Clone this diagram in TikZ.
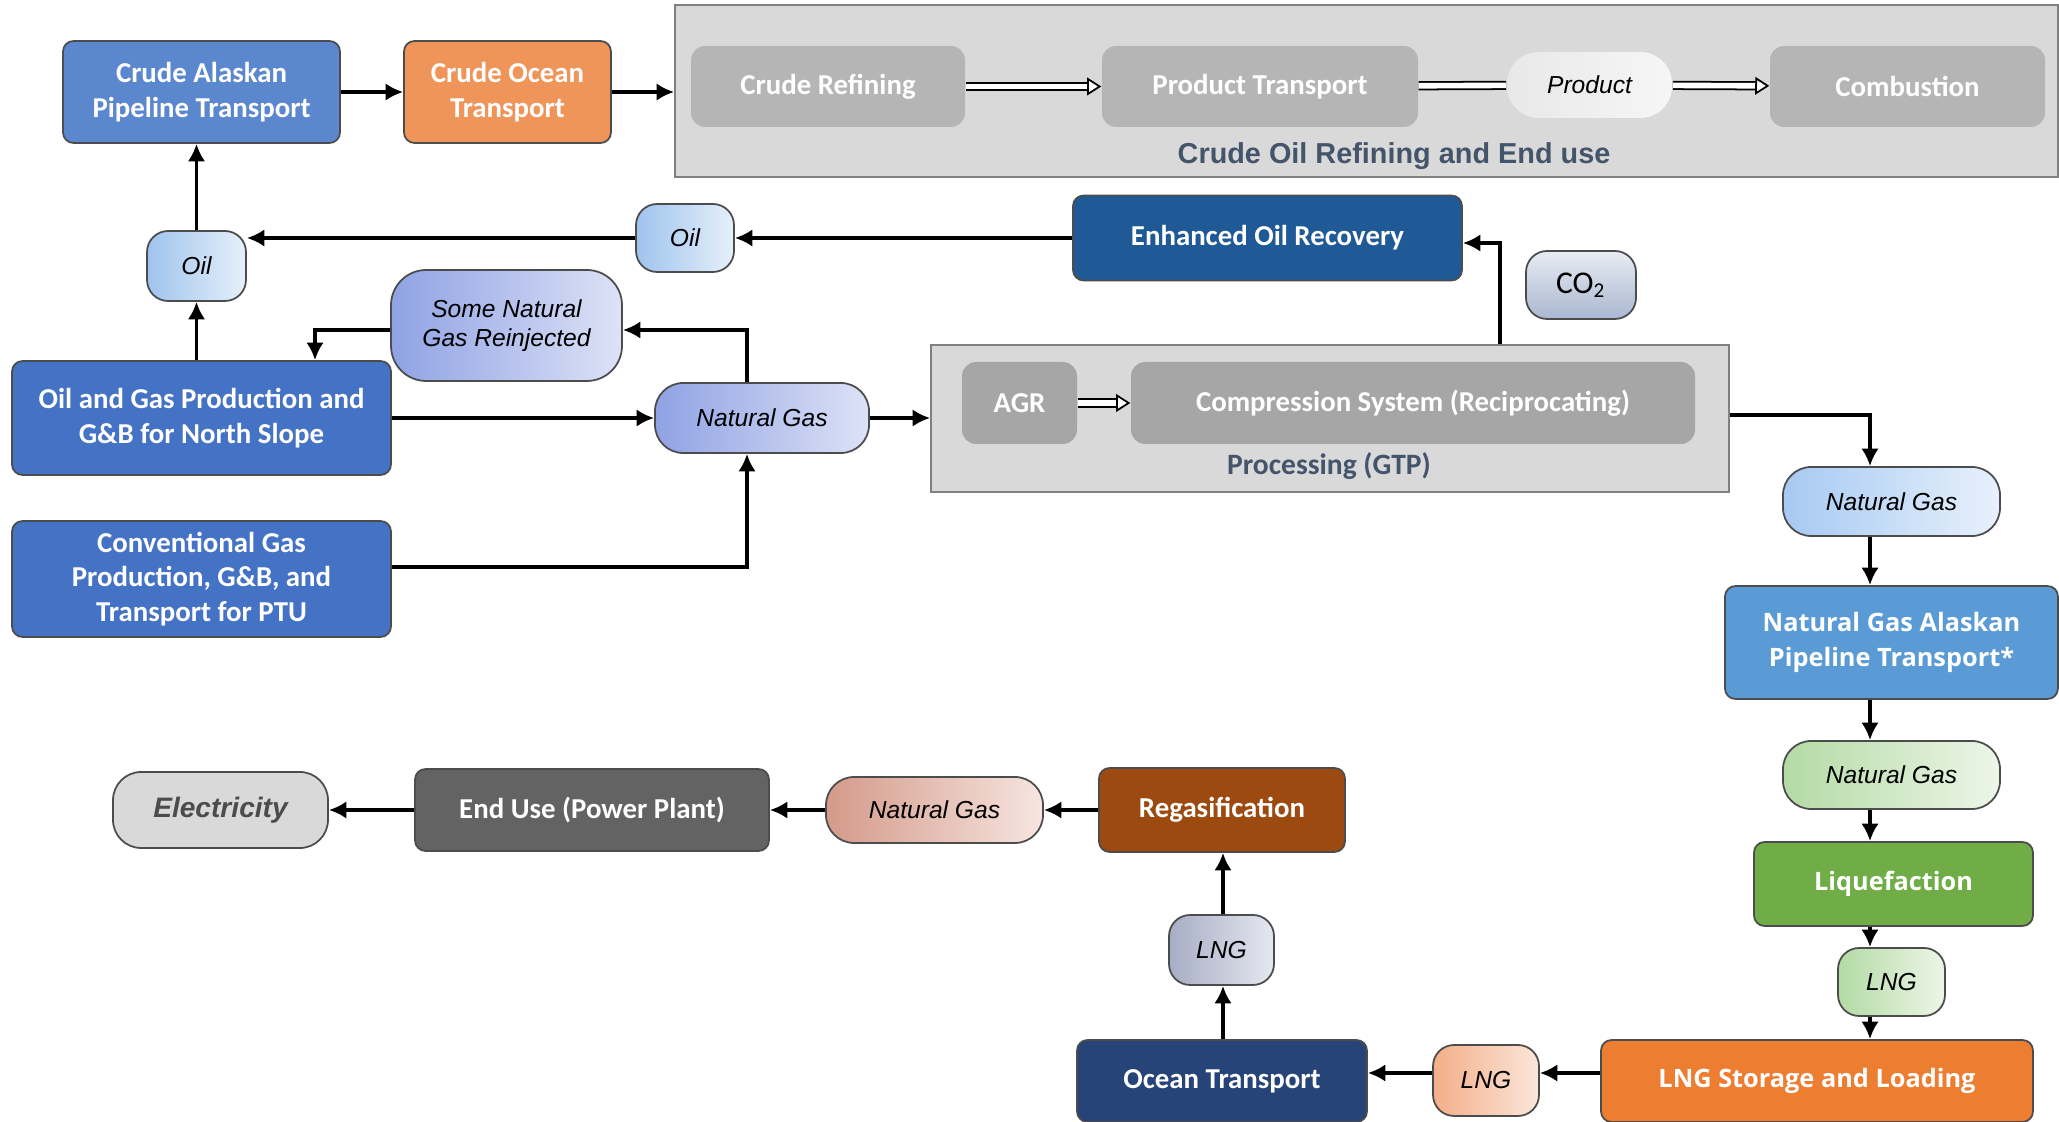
\documentclass[tikz,border=0pt]{standalone}
\usepackage{fontspec}
\usetikzlibrary{arrows,arrows.meta}
\newfontfamily\carlito{Carlito}
\newfontfamily\arialf{Liberation Sans}
\newfontfamily\opens{Open Sans}

\definecolor{capblue}{HTML}{5B87CF}
\definecolor{cotorange}{HTML}{F0955A}
\definecolor{prodblue}{HTML}{4472C4}
\definecolor{eorblue}{HTML}{1F5A96}
\definecolor{ngpblue}{HTML}{5B9BD5}
\definecolor{liqgreen}{HTML}{70AD47}
\definecolor{lslorange}{HTML}{ED7D31}
\definecolor{octnavy}{HTML}{264478}
\definecolor{rgsbrown}{HTML}{9C4A10}
\definecolor{eupgray}{HTML}{636363}
\definecolor{grpgray}{HTML}{D9D9D9}
\definecolor{refbox}{HTML}{B5B5B5}
\definecolor{procbox}{HTML}{A6A6A6}
\definecolor{slate}{HTML}{44546A}
\definecolor{oilA}{HTML}{9FC3EE}
\definecolor{oilB}{HTML}{E6F0FB}
\definecolor{ngA}{HTML}{8FA2E4}
\definecolor{ngB}{HTML}{DDE2F6}
\definecolor{ngrA}{HTML}{A6C9F2}
\definecolor{ngrB}{HTML}{E8F1FC}
\definecolor{co2A}{HTML}{A9B7D0}
\definecolor{co2B}{HTML}{E8ECF3}
\definecolor{grnA}{HTML}{B3DAA4}
\definecolor{grnB}{HTML}{EDF6E8}
\definecolor{orA}{HTML}{F3AE88}
\definecolor{orB}{HTML}{FCE6DA}
\definecolor{lbA}{HTML}{A7ADC4}
\definecolor{lbB}{HTML}{E6E8F0}
\definecolor{pkA}{HTML}{D49A8A}
\definecolor{pkB}{HTML}{F7E5E0}
\definecolor{prdA}{HTML}{E8E8E8}
\definecolor{prdB}{HTML}{F6F6F6}

\tikzset{
  box/.style={draw=black!70, line width=0.5pt, rounded corners=3pt, text=white, align=center,
    inner sep=1pt, font=\carlito\bfseries\fontsize{8.2}{9.8}\selectfont},
  boxo/.style={box, font=\opens\bfseries\fontsize{7.2}{9.8}\selectfont},
  inbox/.style={fill=#1, rounded corners=4pt, text=white, align=center,
    font=\carlito\bfseries\fontsize{8.2}{9.8}\selectfont},
  lbl/.style 2 args={draw=black!70, line width=0.5pt, rounded corners=6pt, left color=#1,
    right color=#2, align=center, inner sep=1pt, font=\arialf\itshape\fontsize{7}{8.2}\selectfont},
  grp/.style={draw=black!50, line width=0.5pt, fill=grpgray},
  sz/.style 2 args={minimum width=#1*0.01cm, minimum height=#2*0.01cm},
  flow/.style={-{Latex[length=5pt,width=5pt]}, line width=1pt},
  dbl/.style={double=white, double distance=1.6pt, line width=0.5pt,
    -{Triangle[open, fill=white, length=4pt, width=5pt, line width=0.5pt]}},
  dblline/.style={double=white, double distance=1.6pt, line width=0.5pt}
}

\begin{document}
\begin{tikzpicture}[x=0.01cm, y=-0.01cm]
    \useasboundingbox (0,0) rectangle (2059,1122);
    \node[box, fill=capblue, sz={277}{102}] (cap) at (201.5,92) {Crude Alaskan\\Pipeline Transport};
    \node[box, fill=cotorange, sz={207}{102}] (cot) at (507.5,92) {Crude Ocean\\Transport};
    \node[grp, sz={1383}{172}] (refgrp) at (1366.5,91) {};
    \node[inbox=refbox, sz={274}{81}] (crf) at (828,86.5) {Crude Refining};
    \node[inbox=refbox, sz={316}{81}] (ptr) at (1260,86.5) {Product Transport};
    \node[lbl={prdA}{prdB}, draw=none, rounded corners=9pt, sz={165}{66}] (prd) at (1589.5,85) {Product};
    \node[inbox=refbox, sz={275}{81}] (cmb) at (1907.5,86.5) {Combustion};
    \node[text=slate, font=\arialf\bfseries\fontsize{8.2}{10}\selectfont] (reflbl) at (1394,156) {Crude Oil Refining and End use};
    \node[lbl={oilA}{oilB}, sz={99}{70}] (oilL) at (196.5,266) {Oil};
    \node[lbl={oilA}{oilB}, sz={98}{68}] (oilM) at (685,238) {Oil};
    \node[box, fill=eorblue, sz={389}{85}] (eor) at (1267.5,238) {Enhanced Oil Recovery};
    \node[lbl={co2A}{co2B}, top color=co2B, bottom color=co2A, font=\carlito\fontsize{9}{10}\selectfont, sz={110}{68}] (co2) at (1581,285) {CO\textsubscript{2}};
    \node[lbl={ngA}{ngB}, rounded corners=10pt, sz={231}{111}] (rei) at (506.5,325.5) {Some Natural\\Gas Reinjected};
    \node[box, fill=prodblue, sz={379}{114}] (ogp) at (201.5,418) {Oil and Gas Production and\\G\&B for North Slope};
    \node[lbl={ngA}{ngB}, rounded corners=8pt, sz={214}{70}] (ngM) at (762,418) {Natural Gas};
    \node[grp, sz={798}{147}] (procgrp) at (1330,418.5) {};
    \node[inbox=procbox, sz={115}{82}] (agr) at (1019.5,403) {AGR};
    \node[inbox=procbox, sz={564}{82}] (cmp) at (1413,403) {Compression System (Reciprocating)};
    \node[text=slate, font=\carlito\bfseries\fontsize{8.4}{10}\selectfont] (proclbl) at (1329,466) {Processing (GTP)};
    \node[box, fill=prodblue, sz={379}{116}] (cgp) at (201.5,579) {Conventional Gas\\Production, G\&B, and\\Transport for PTU};
    \node[lbl={ngrA}{ngrB}, rounded corners=8pt, sz={217}{69}] (ngR) at (1891.5,501.5) {Natural Gas};
    \node[boxo, fill=ngpblue, sz={333}{113}] (ngap) at (1891.5,642.5) {Natural Gas Alaskan\\Pipeline Transport*};
    \node[lbl={grnA}{grnB}, rounded corners=8pt, sz={217}{68}] (ngG) at (1891.5,775) {Natural Gas};
    \node[boxo, fill=liqgreen, sz={279}{84}] (liq) at (1893.5,884) {Liquefaction};
    \node[lbl={grnA}{grnB}, sz={107}{68}] (lngG) at (1891.5,982) {LNG};
    \node[boxo, fill=lslorange, sz={432}{82}] (lsl) at (1817,1081) {LNG Storage and Loading};
    \node[lbl={orA}{orB}, sz={106}{71}] (lngO) at (1486,1080.5) {LNG};
    \node[box, fill=octnavy, sz={290}{82}] (oct) at (1222,1081) {Ocean Transport};
    \node[lbl={lbA}{lbB}, sz={105}{70}] (lngB) at (1221.5,950) {LNG};
    \node[box, fill=rgsbrown, sz={246}{84}] (rgs) at (1222,810) {Regasification};
    \node[lbl={pkA}{pkB}, rounded corners=8pt, sz={217}{66}] (ngP) at (934.5,810) {Natural Gas};
    \node[box, fill=eupgray, sz={354}{82}] (eup) at (592,810) {End Use (Power Plant)};
    \node[lbl={grpgray}{grpgray}, rounded corners=8pt, text=black!70, font=\arialf\bfseries\itshape\fontsize{8}{9}\selectfont, sz={215}{76}] (ele) at (220.5,810) {Electricity};

    \coordinate (jr) at (747,330);
    \coordinate (jl) at (315,330);
    \coordinate (jc) at (747,567);
    \coordinate (je) at (1500,243);
    \coordinate (jn) at (1870,415);
    \coordinate (jb) at (0,1073);
    \coordinate (jo) at (1223,0);

    \draw[flow] (cap) -- (cot);
    \draw[flow] (cot) -- (cot -| refgrp.west);
    \draw[dbl] (crf) -- (ptr);
    \draw[dblline] (ptr) -- (prd);
    \draw[dbl] (prd) -- (cmb);
    \draw[flow] (eor) -- (oilM);
    \draw[flow] (oilM) -- (oilM -| oilL.east);
    \draw[flow] (oilL.north) -- (oilL.north |- cap.south);
    \draw[flow] (ogp.north -| oilL) -- (oilL.south);
    \draw[flow] (ogp) -- (ngM);
    \draw[flow] (ngM.north -| jr) -- (jr) -- (jr -| rei.east);
    \draw[flow] (rei.west |- jl) -- (jl) -- (jl |- ogp.north);
    \draw[flow] (cgp.east |- jc) -- (jc) -- (jc |- ngM.south);
    \draw[flow] (ngM) -- (ngM -| procgrp.west);
    \draw[dbl] (agr) -- (cmp);
    \draw[flow] (je |- procgrp.north) -- (je) -- (je -| eor.east);
    \draw[flow] (procgrp.east |- jn) -- (jn) -- (jn |- ngR.north);
    \foreach \a/\b in {ngR/ngap, ngap/ngG, ngG/liq, liq/lngG, lngG/lsl}
        \draw[flow] (\a.south -| jn) -- (\b.north -| jn);
    \draw[flow] (lsl.west |- jb) -- (lngO.east |- jb);
    \draw[flow] (lngO.west |- jb) -- (oct.east |- jb);
    \draw[flow] (oct.north -| jo) -- (lngB.south -| jo);
    \draw[flow] (lngB.north -| jo) -- (rgs.south -| jo);
    \draw[flow] (rgs) -- (ngP);
    \draw[flow] (ngP) -- (eup);
    \draw[flow] (eup) -- (ele);
\end{tikzpicture}
\end{document}
